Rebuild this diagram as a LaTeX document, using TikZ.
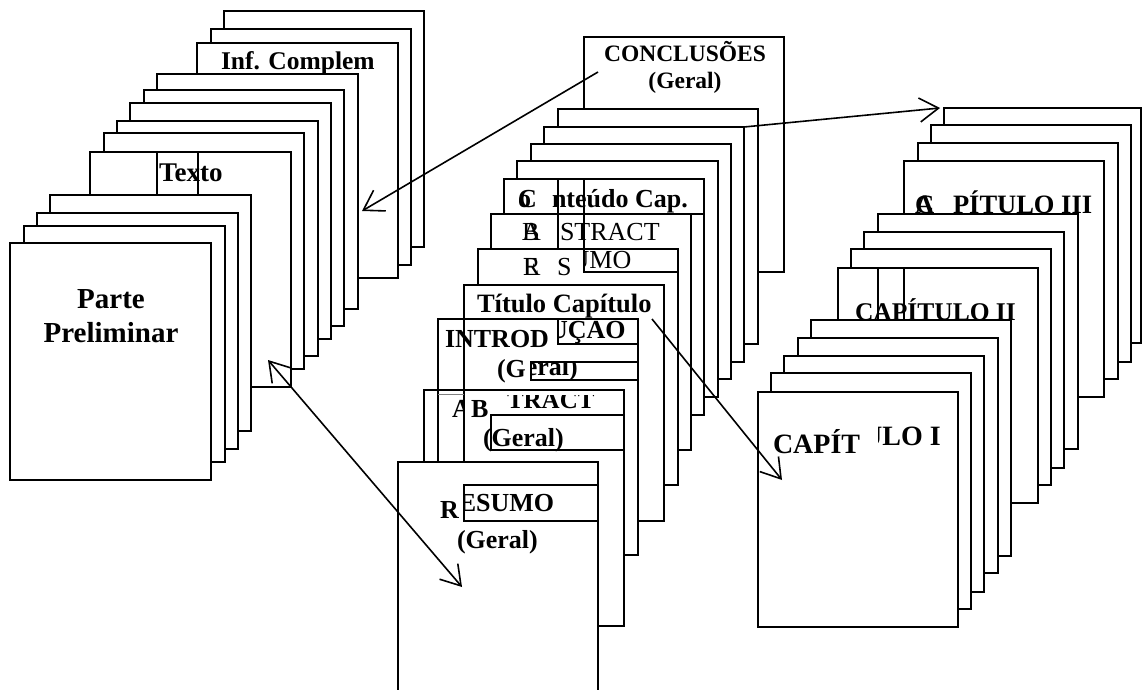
\documentclass[tikz,border=0pt]{standalone}
\usepackage{fontspec}
\setmainfont{Liberation Serif}
\usetikzlibrary{arrows.meta}
\tikzset{
  pg/.style={draw=black, line width=1.4pt, fill=white},
  ln/.style={draw=black, line width=1.4pt},
  lbl/.style={anchor=base west, inner sep=0pt, outer sep=0pt},
  clbl/.style={anchor=base, inner sep=0pt, outer sep=0pt},
  arr/.style={line width=1.6pt, -{Straight Barb[length=19pt,width=24pt]}},
  darr/.style={line width=1.6pt, {Straight Barb[length=19pt,width=24pt]}-{Straight Barb[length=19pt,width=24pt]}},
}
\newcommand\fb[1]{\fontsize{#1}{#1}\selectfont\bfseries}
\newcommand\fr[1]{\fontsize{#1}{#1}\selectfont}
\begin{document}
\begin{tikzpicture}[x=1pt,y=-1pt]
\useasboundingbox (0,0) rectangle (1143,690);
\fill[white] (0,0) rectangle (1143,690);

% ---------------- left stack ----------------
\draw[pg] (224,11) rectangle (424,247);
\draw[pg] (211,29) rectangle (411,265);
\draw[pg] (197,43) rectangle (398,278);
\node[lbl, font=\fb{25.5}] (infc) at (221,70) {Inf. Complem};
\draw[pg] (157,74) rectangle (358,309);
\draw[pg] (144,90) rectangle (344,326);
\draw[pg] (130,103) rectangle (331,339);
\draw[pg] (117,121) rectangle (318,356);
\draw[pg] (104,133) rectangle (304,369);
\draw[pg] (90,152) rectangle (291,387);
\node[lbl, font=\fb{27}] (texto) at (159,181) {Texto};
\draw[ln] (157,152) -- (157,195);
\draw[ln] (198,152) -- (198,195);
\draw[pg] (50,195) rectangle (251,431);
\draw[pg] (37,213) rectangle (238,449);
\draw[pg] (24,226) rectangle (225,462);
\draw[pg] (10,243) rectangle (211,480);
\node[clbl, font=\fb{29}] (parte) at (111,308) {Parte};
\node[clbl, font=\fb{29}] (prelim) at (111,342) {Preliminar};

% ---------------- middle stack ----------------
\draw[pg] (584,37) rectangle (784,272);
\node[clbl, font=\fb{23.5}] (concl) at (685,62) {CONCLUSÕES};
\node[clbl, font=\fb{23.5}] (conclg) at (685,89) {(Geral)};
\draw[pg] (558,109) rectangle (758,344);
\draw[pg] (544,127) rectangle (744,362);
\draw[pg] (531,144) rectangle (731,379);
\draw[pg] (517,161) rectangle (718,397);
\draw[pg] (504,179) rectangle (704,415);
\draw[ln] (504,214) -- (704,214);
\node[lbl, font=\fb{26}] (contC) at (518,207) {C};
\node[lbl, font=\fb{26}] (conto) at (518,207) {o};
\node[lbl, font=\fb{26}] (cont) at (552,207) {nteúdo Cap.};
\draw[pg] (491,214) rectangle (691,450);
\node[lbl, font=\fr{26}] (absA) at (522,240) {A};
\node[lbl, font=\fr{26}] (absB) at (522,240) {B};
\node[lbl, font=\fr{26}] (abs) at (560,240) {STRACT};
\draw[pg] (478,249) rectangle (678,485);
\node[lbl, font=\fr{26}] (resR) at (523,275) {R};
\node[lbl, font=\fr{26}] (resE) at (523,275) {E};
\node[lbl, font=\fr{26}] (resS) at (557,275) {S};
\begin{scope}
  \clip (584,249) rectangle (678,272);
  \node[lbl, font=\fr{26}] (resw) at (523,268) {RESUMO};
\end{scope}
\draw[ln] (558,179) -- (558,249);
\draw[ln] (584,179) -- (584,272) -- (678,272);
\draw[pg] (464,285) rectangle (664,521);
\node[lbl, font=\fb{26.5}] (titcap) at (477,312) {Título Capítulo};
\draw[pg] (438,319) rectangle (638,555);
\node[lbl, font=\fb{26}] (intro) at (445,347) {INTROD};
\fill[white] (558,319) rectangle (638,344);
\begin{scope}
  \clip (558,319) rectangle (638,344);
  \node[lbl, font=\fb{26}] (introw) at (445,338) {INTRODUÇÃO};
\end{scope}
\draw[ln] (558,319) rectangle (638,344);
\node[lbl, font=\fb{26}] (introg) at (497,377) {(G};
\fill[white] (531,362) rectangle (638,380);
\begin{scope}
  \clip (531,362) rectangle (638,380);
  \node[lbl, font=\fb{26}] (introgw) at (497,375) {(Geral)};
\end{scope}
\draw[ln] (531,362) rectangle (638,380);
\draw[pg] (424,390) rectangle (624,626);
\draw[ln] (438,319) -- (438,462);
\draw[ln] (464,319) -- (464,462);
\draw[gray, line width=1pt] (438,394) -- (464,394);
\begin{scope}
  \clip (438,395) rectangle (464,440);
  \node[lbl, font=\fb{26}] (abgA) at (452,417) {A};
\end{scope}
\node[lbl, font=\fb{26}] (abgB) at (471,417) {B};
\begin{scope}
  \clip (490,395) rectangle (624,415);
  \node[lbl, font=\fb{25}] (abgT) at (507,408) {TRACT};
\end{scope}
\draw[pg] (491,415) rectangle (624,450);
\node[lbl, font=\fb{26}] (abgg) at (483,446) {(Geral)};
\draw[pg] (398,462) rectangle (598,700);
\fill[white] (464,485) rectangle (598,521);
\begin{scope}
  \clip (464,485) rectangle (598,521);
  \node[lbl, font=\fb{26}] (resgw) at (440,511) {RESUMO};
\end{scope}
\draw[ln] (464,485) rectangle (598,521);
\node[lbl, font=\fb{26}] (resgR) at (440,518) {R};
\node[lbl, font=\fb{26}] (resgg) at (457,548) {(Geral)};

% ---------------- right stack ----------------
\draw[pg] (944,108) rectangle (1141,343);
\draw[pg] (931,125) rectangle (1131,362);
\draw[pg] (918,143) rectangle (1118,379);
\draw[pg] (904,161) rectangle (1104,397);
\node[lbl, font=\fb{26.5}] (c3C) at (915,213) {C};
\node[lbl, font=\fb{26.5}] (c3A) at (915,213) {A};
\node[lbl, font=\fb{26.5}] (c3) at (953,213) {PÍTULO III};
\draw[pg] (878,214) rectangle (1078,449);
\draw[pg] (864,232) rectangle (1064,468);
\draw[pg] (851,249) rectangle (1051,485);
\draw[pg] (838,268) rectangle (1038,503);
\node[lbl, font=\fb{25.5}] (c2) at (855,320) {CAPÍTULO II};
\draw[ln] (878,268) -- (878,320);
\draw[ln] (904,268) -- (904,320);
\draw[pg] (811,320) rectangle (1011,556);
\draw[pg] (798,338) rectangle (998,573);
\draw[pg] (784,356) rectangle (984,592);
\draw[pg] (771,373) rectangle (971,609);
\draw[pg] (758,392) rectangle (958,627);
\node[lbl, font=\fb{28}] (c1) at (773,453) {CAPÍT};
\begin{scope}
  \clip (878,393) rectangle (957,626);
  \node[lbl, font=\fb{28}] (c1w) at (775,445) {CAPÍTULO I};
\end{scope}

% ---------------- arrows ----------------
\coordinate (a1s) at (598,72);
\coordinate (a1e) at (362,211);
\coordinate (a2s) at (744,127);
\coordinate (a2e) at (940,108);
\coordinate (a3s) at (268,360);
\coordinate (a3e) at (462,587);
\coordinate (a4s) at (652,319);
\coordinate (a4e) at (782,480);
\draw[arr] (a1s) -- (a1e);
\draw[arr] (a2s) -- (a2e);
\draw[darr] (a3s) -- (a3e);
\draw[arr] (a4s) -- (a4e);
\end{tikzpicture}
\end{document}
